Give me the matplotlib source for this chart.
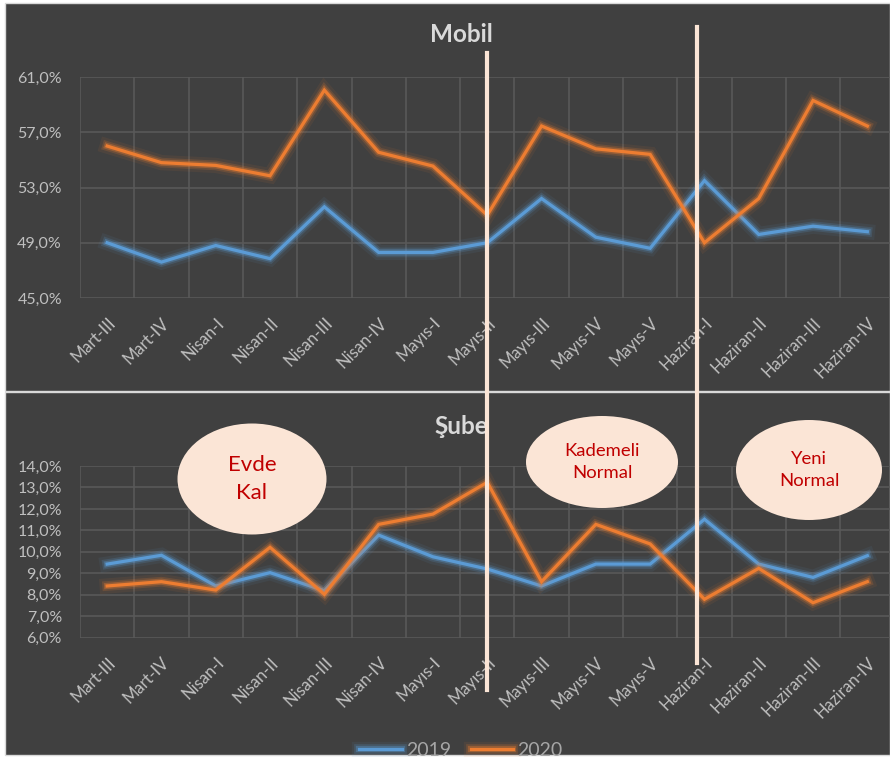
import matplotlib
matplotlib.use("Agg")
import matplotlib.pyplot as plt
import matplotlib.patheffects as pe
from matplotlib.patches import Rectangle, Ellipse
from matplotlib.lines import Line2D
from matplotlib.ticker import FuncFormatter

plt.rcParams['font.family'] = ['Lato', 'DejaVu Sans']

# weekly periods
weeks = ["Mart-III", "Mart-IV", "Nisan-I", "Nisan-II", "Nisan-III", "Nisan-IV",
         "Mayıs-I", "Mayıs-II", "Mayıs-III", "Mayıs-IV", "Mayıs-V",
         "Haziran-I", "Haziran-II", "Haziran-III", "Haziran-IV"]

# Mobil share (%)
mobil_2019 = [49.0, 47.6, 48.8, 47.85, 51.6, 48.3, 48.3, 49.0, 52.2, 49.4, 48.6, 53.5, 49.6, 50.2, 49.8]
mobil_2020 = [56.0, 54.8, 54.6, 53.85, 60.05, 55.55, 54.55, 51.0, 57.45, 55.8, 55.4, 49.0, 52.2, 59.3, 57.45]

# Sube share (%)
sube_2019 = [9.43, 9.84, 8.41, 9.03, 8.19, 10.78, 9.77, 9.2, 8.41, 9.43, 9.43, 11.52, 9.43, 8.81, 9.82]
sube_2020 = [8.41, 8.61, 8.22, 10.21, 8.02, 11.28, 11.76, 13.24, 8.61, 11.28, 10.37, 7.79, 9.23, 7.63, 8.61]

series_names = ["2019", "2020"]
phase_labels = ["Evde\nKal", "Kademeli\nNormal", "Yeni\nNormal"]

W, H = 890, 757
BG = '#404040'
GRID = '#595959'
TXT = '#bfbfbf'
BLUE = '#5b9bd5'
ORANGE = '#ed7d31'
PEACH = '#fbe5d6'

fig = plt.figure(figsize=(W / 100, H / 100), dpi=100)
fig.patch.set_facecolor('white')


def fx(px):
    return px / W


def fy(py):
    return 1 - py / H


# chart panels
fig.add_artist(Rectangle((fx(5), fy(391)), fx(885), 388 / H, transform=fig.transFigure,
                         facecolor=BG, edgecolor='#d9d9d9', lw=1, zorder=0))
fig.add_artist(Rectangle((fx(5), fy(755)), fx(885), 363 / H, transform=fig.transFigure,
                         facecolor=BG, edgecolor='#d9d9d9', lw=1, zorder=0))

pct = FuncFormatter(lambda v, p: ("%.1f%%" % v).replace(".", ","))


def glow(color):
    return [pe.Stroke(linewidth=11, foreground=color, alpha=0.08),
            pe.Stroke(linewidth=7, foreground=color, alpha=0.18),
            pe.Stroke(linewidth=4.5, foreground=color, alpha=0.35),
            pe.Normal()]


def setup(ax, ylo, yhi, step, title, title_y):
    ax.set_facecolor('none')
    ax.set_xlim(-0.5, len(weeks) - 0.5)
    ax.set_ylim(ylo, yhi)
    ax.set_yticks([ylo + i * step for i in range(int(round((yhi - ylo) / step)) + 1)])
    ax.yaxis.set_major_formatter(pct)
    ax.set_xticks(range(len(weeks)))
    ax.set_xticklabels(weeks, rotation=45, ha='right', rotation_mode='anchor')
    ax.set_xticks([i - 0.5 for i in range(len(weeks) + 1)], minor=True)
    ax.grid(True, which='major', axis='y', color=GRID, lw=1.2)
    ax.grid(True, which='minor', axis='x', color=GRID, lw=1.2)
    for s in ax.spines.values():
        s.set_visible(False)
    ax.tick_params(axis='both', which='both', length=0, colors=TXT)
    ax.tick_params(axis='y', pad=13, labelsize=11.5)
    ax.tick_params(axis='x', pad=12, labelsize=12)
    fig.text(0.518, title_y, title, ha='center', va='center', color='#d9d9d9',
             fontsize=17.5, fontweight='bold')


ax1 = fig.add_axes([fx(80), fy(298), fx(814.5), (298 - 77) / H])
setup(ax1, 45, 61, 4, "Mobil", fy(35))
ax1.plot(range(len(weeks)), mobil_2019, color=BLUE, lw=2.3, path_effects=glow(BLUE),
         solid_joinstyle='miter', zorder=3)
ax1.plot(range(len(weeks)), mobil_2020, color=ORANGE, lw=2.3, path_effects=glow(ORANGE),
         solid_joinstyle='miter', zorder=3)

ax2 = fig.add_axes([fx(80), fy(637.7), fx(814.5), (637.7 - 466) / H])
setup(ax2, 6, 14, 1, "Şube", fy(426))
l1, = ax2.plot(range(len(weeks)), sube_2019, color=BLUE, lw=2.3, path_effects=glow(BLUE),
               solid_joinstyle='miter', zorder=3)
l2, = ax2.plot(range(len(weeks)), sube_2020, color=ORANGE, lw=2.3, path_effects=glow(ORANGE),
               solid_joinstyle='miter', zorder=3)

# phase separators
inv = fig.transFigure.inverted()
for xd, y_top, y_bot in [(7.0, 53, 690), (10.87, 27, 663)]:
    xf = inv.transform(ax1.transData.transform((xd, 50)))[0]
    fig.add_artist(Line2D([xf, xf], [fy(y_top), fy(y_bot)], transform=fig.transFigure,
                          color=PEACH, lw=3, zorder=10))

# phase bubbles
for label, cx, cy, w, h, fs, ls in [(phase_labels[0], 252, 479, 149, 111, 16, 1.45),
                                    (phase_labels[1], 602, 462, 152, 92, 13.3, 1.4),
                                    (phase_labels[2], 809, 470, 146, 100, 13.3, 1.4)]:
    fig.add_artist(Ellipse((fx(cx), fy(cy)), fx(w), h / H, transform=fig.transFigure,
                           facecolor=PEACH, edgecolor='none', zorder=11))
    fig.text(fx(cx), fy(cy), label, ha='center', va='center', color='#c00000',
             fontsize=fs, linespacing=ls, zorder=12)

fig.legend([l1, l2], series_names, loc='center', bbox_to_anchor=(0.518, fy(750)), ncol=2,
           frameon=False, fontsize=14, labelcolor='#a6a6a6', handlelength=2.2,
           handletextpad=0.2, columnspacing=1.0)

fig.savefig("out.png", dpi=100, facecolor=fig.get_facecolor())
